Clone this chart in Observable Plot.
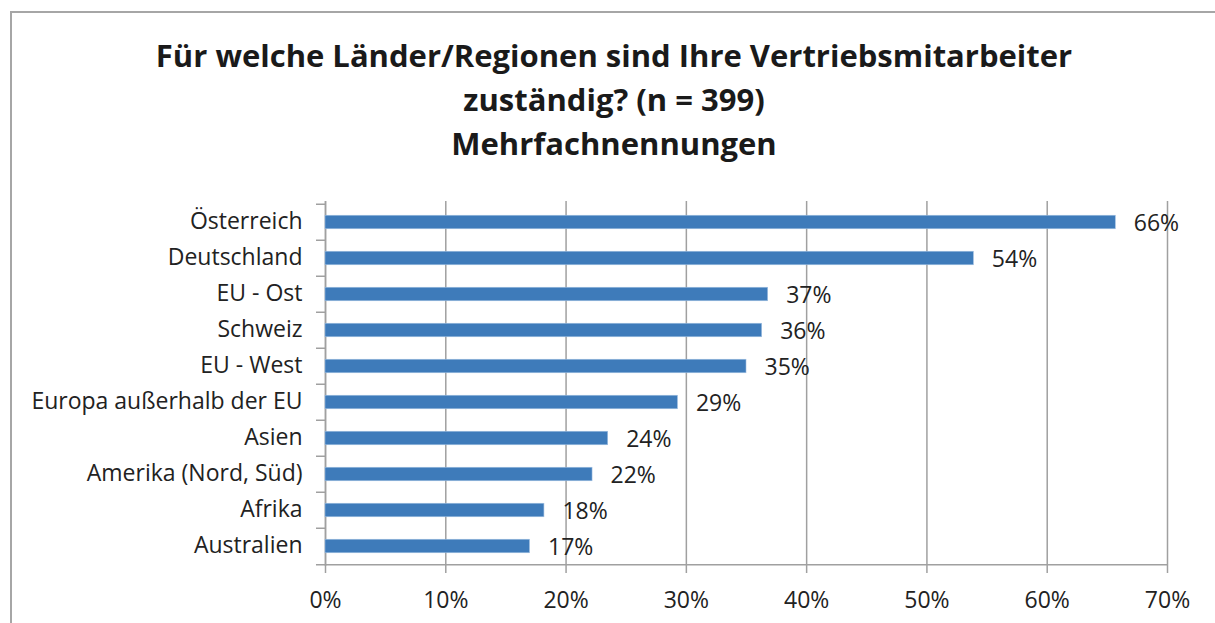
<!DOCTYPE html>
<html>
<head>
<meta charset="utf-8">
<script src="https://cdn.jsdelivr.net/npm/d3@7"></script>
<script src="https://cdn.jsdelivr.net/npm/@observablehq/plot@0.6"></script>
<style>
  html, body { margin: 0; padding: 0; background: #fff; }
  #wrap { position: relative; width: 1215px; height: 623px; overflow: hidden; }
  #border { position: absolute; left: 10px; top: 11px; right: -5px; bottom: -5px;
            border-left: 2px solid #a6a6a6; border-top: 2px solid #a6a6a6; }
  #title { position: absolute; left: 0; top: 33px; width: 1228px; text-align: center;
           font-family: "Open Sans", sans-serif; font-weight: bold; font-size: 31px; line-height: 44px; color: #1a1a1a; }
  #chart { position: absolute; left: 0; top: 0; }
</style>
</head>
<body>
<div id="wrap">
  <div id="border"></div>
  <div id="chart"></div>
  <div id="title">Für welche Länder/Regionen sind Ihre Vertriebsmitarbeiter<br>zuständig? (n = 399)<br>Mehrfachnennungen</div>
</div>
<script>
const categories = ["Österreich", "Deutschland", "EU - Ost", "Schweiz", "EU - West",
  "Europa außerhalb der EU", "Asien", "Amerika (Nord, Süd)", "Afrika", "Australien"];
const values = [65.7, 53.9, 36.8, 36.3, 35.0, 29.3, 23.5, 22.2, 18.2, 17.0];
const xTicks = [0, 10, 20, 30, 40, 50, 60, 70];

const data = categories.map((c, i) => ({category: c, value: values[i]}));
const font = "'Open Sans', sans-serif";
const half = 36.5 / 2;

const chart = Plot.plot({
  width: 1215,
  height: 623,
  marginLeft: 325,
  marginRight: 48,
  marginTop: 201,
  marginBottom: 57,
  style: {fontFamily: font, fontSize: "23px", color: "#222", background: "transparent"},
  x: {domain: [0, 70], ticks: xTicks},
  y: {domain: categories, padding: 0},
  marks: [
    Plot.gridX(xTicks, {stroke: "#a0a0a0", strokeOpacity: 1, strokeWidth: 1.5}),
    Plot.ruleX([0], {stroke: "#a0a0a0", strokeWidth: 1.5}),
    Plot.ruleY(categories, {y: d => d, x1: -0.75, x2: 0, dy: -half, stroke: "#a0a0a0", strokeWidth: 1.5}),
    Plot.ruleY(categories.slice(-1), {y: d => d, x1: -0.75, x2: 70, dy: half, stroke: "#a0a0a0", strokeWidth: 1.5}),
    Plot.barX(data, {y: "category", x: "value", fill: "#3e7bba", stroke: "#9dbde0", strokeWidth: 0.6, insetTop: 11.25, insetBottom: 11.25}),
    Plot.text(data, {y: "category", x: "value", text: d => Math.round(d.value) + "%", textAnchor: "start", dx: 18, dy: 1.5, fill: "#222", fontSize: 23}),
    Plot.axisY({tickSize: 0, tickPadding: 23, fontSize: 23, dy: -1, label: null}),
    Plot.axisX(xTicks, {tickSize: 7, tickPadding: 18, stroke: "#a0a0a0", strokeWidth: 1.5, fontSize: 23, label: null, tickFormat: d => d + "%", fill: "#222"})
  ]
});
document.getElementById("chart").appendChild(chart);
</script>
</body>
</html>
